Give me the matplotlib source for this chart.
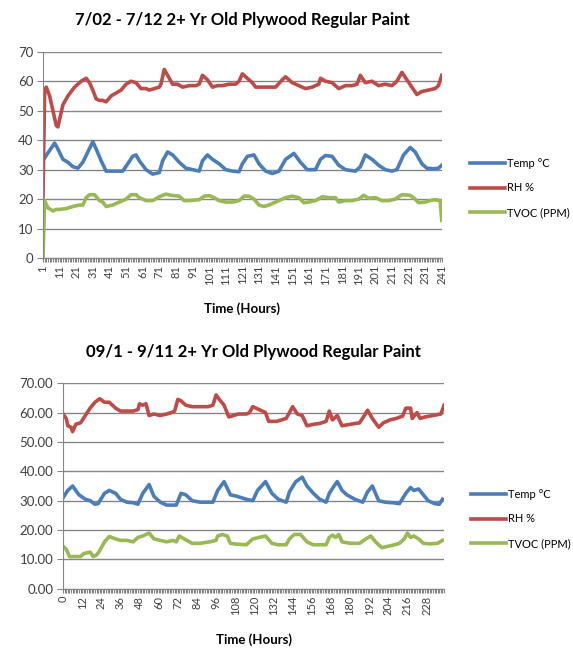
import numpy as np
import matplotlib.pyplot as plt
from matplotlib.ticker import FormatStrFormatter

# ---- chart 1 : 7/02 - 7/12 (hours 1..241) ----
temp1_h = [2, 5, 8, 10, 13, 16, 19, 22, 25, 28, 31, 33, 36, 39, 43, 49, 52, 55, 57, 59, 63, 67, 71,
           73, 76, 79, 83, 87, 91, 95, 97, 100, 103, 107, 111, 115, 119, 121, 124, 128, 131, 135,
           139, 143, 147, 152, 156, 160, 165, 168, 171, 175, 179, 183, 189, 192, 195, 199, 203,
           207, 211, 214, 218, 222, 225, 229, 232, 236, 239, 241]
temp1 = [34, 36.5, 39, 37, 33.5, 32.5, 31, 30.5, 32.5, 36, 39.5, 37, 33, 29.5, 29.5, 29.5, 32, 34.5,
         35, 33, 30, 28.5, 29, 33, 36, 35, 32.5, 30.5, 30, 29.5, 33, 35, 33.5, 32, 30, 29.5, 29.3,
         32, 34.5, 35, 32, 29.5, 28.7, 29.5, 33.5, 35.5, 32.5, 30, 30, 33.5, 34.8, 34.5, 31.5, 30,
         29.5, 31, 35, 33.5, 31.5, 30, 29.5, 30, 35, 37.5, 36, 32, 30.5, 30.3, 30.5, 31.5]

rh1_h = [1, 2, 3, 5, 9, 10, 13, 16, 20, 24, 27, 29, 31, 33, 35, 37, 39, 42, 45, 48, 51, 54, 57, 60,
         63, 65, 68, 71, 72, 74, 76, 79, 82, 85, 89, 93, 95, 97, 100, 103, 106, 109, 113, 117, 119,
         121, 124, 127, 129, 135, 141, 145, 147, 151, 155, 159, 163, 167, 168, 171, 175, 179, 183,
         187, 190, 192, 195, 199, 203, 207, 211, 214, 217, 220, 223, 226, 229, 233, 237, 239, 241]
rh1 = [20, 57, 58, 55, 45, 44.5, 52, 55, 58, 60, 61, 59.5, 57, 54, 53.5, 53.5, 53, 55, 56, 57, 59,
       60, 59.5, 57.5, 57.5, 57, 57.5, 58, 59, 64, 62, 59, 59, 58, 58.5, 58.5, 59, 62, 60.5, 58,
       58.5, 58.5, 59, 59, 60, 62.5, 61, 59.5, 58, 58, 58, 60.5, 61.5, 59.5, 58.5, 57.5, 58, 59,
       61, 60, 59.5, 57.5, 58.5, 58.5, 59, 62, 59.5, 60, 58.5, 59, 58.5, 60, 63, 60.5, 58, 55.5,
       56.5, 57, 57.5, 58.5, 62]

tvoc1_h = [1, 2, 4, 7, 9, 11, 15, 19, 23, 25, 27, 29, 32, 35, 37, 39, 43, 47, 51, 54, 57, 59, 63,
           67, 71, 75, 78, 83, 86, 89, 95, 98, 101, 104, 107, 111, 115, 119, 122, 125, 128, 131,
           134, 137, 143, 147, 151, 155, 158, 161, 165, 169, 173, 177, 179, 183, 187, 191, 194,
           197, 201, 205, 209, 213, 217, 222, 225, 227, 231, 234, 237, 240, 241]
tvoc1 = [0, 19.5, 17, 16, 16.5, 16.5, 16.8, 17.5, 18, 18, 20.5, 21.5, 21.5, 19.5, 19, 17.5, 18, 19,
         20, 21.5, 21.5, 20.5, 19.5, 19.5, 20.8, 21.7, 21.3, 21, 19.5, 19.5, 19.8, 21, 21.2, 20.5,
         19.5, 19, 19, 19.5, 21, 21, 20, 18, 17.5, 18, 19.5, 20.5, 21, 20.5, 18.8, 19, 19.5, 20.8,
         20.5, 20.5, 19, 19.5, 19.5, 20, 21.3, 20.3, 20.5, 19.5, 19.5, 20, 21.5, 21.3, 20, 18.8,
         19, 19.5, 19.8, 19.5, 12.8]

# ---- chart 2 : 09/1 - 9/11 (hours 0..239) ----
temp2_h = [0, 3, 6, 10, 14, 17, 20, 22, 26, 29, 33, 36, 40, 44, 47, 50, 54, 57, 61, 65, 71, 74, 77,
           81, 86, 94, 97, 101, 105, 109, 115, 119, 122, 127, 131, 135, 140, 142, 146, 150, 153,
           157, 161, 165, 167, 170, 172, 175, 178, 183, 188, 191, 194, 198, 202, 207, 211, 215,
           218, 220, 223, 226, 229, 233, 236, 238]
temp2 = [31, 33.5, 35, 32, 30.5, 30, 28.8, 29, 32.5, 33.5, 32.5, 30.5, 29.5, 29.3, 28.8, 32.5, 35.5,
         31.5, 29.5, 28.5, 28.5, 32.5, 32, 30, 29.5, 29.5, 33.5, 36.5, 32, 31.5, 30.5, 30, 33.5,
         36.5, 32.5, 30.5, 29.5, 33, 36.5, 38, 35, 32.5, 30.5, 29.5, 32.5, 35, 36.5, 33.5, 32,
         30.5, 29.5, 33, 35, 30, 29.5, 29.3, 29, 32.5, 34.5, 33.5, 34, 32, 30, 29, 28.8, 30.5]

rh2_h = [0, 2, 3, 5, 6, 8, 11, 14, 17, 20, 23, 26, 29, 33, 36, 40, 44, 47, 48, 50, 52, 54, 57, 61,
         65, 68, 70, 72, 74, 77, 81, 86, 91, 94, 96, 98, 101, 104, 107, 110, 115, 117, 119, 123,
         127, 129, 134, 140, 144, 147, 150, 153, 157, 161, 165, 167, 169, 172, 175, 180, 186, 189,
         191, 194, 198, 201, 205, 209, 213, 215, 218, 219, 222, 224, 227, 232, 237, 239]
rh2 = [59.5, 58, 55.5, 55, 53.5, 56, 56.5, 59, 61.5, 63.5, 64.7, 63.5, 63.5, 61.5, 60.5, 60.5, 60.5,
       61, 63, 62.5, 63, 59, 59.5, 59, 59.5, 60, 60.5, 64.5, 64, 62.5, 62, 62, 62, 62.5, 66, 64.5,
       62.5, 58.5, 59, 59.5, 59.5, 60, 62, 61, 60, 57, 57, 58, 62, 59.5, 59, 55.5, 56, 56.3, 57,
       60.5, 57.5, 59, 55.5, 56, 56.5, 59, 60.8, 58, 55, 56.5, 57.5, 58, 58.8, 61.5, 61.5, 58,
       60, 58, 58.5, 59, 59.5, 62.5]

tvoc2_h = [0, 2, 4, 8, 11, 13, 17, 19, 21, 23, 26, 29, 33, 36, 40, 44, 47, 50, 54, 57, 61, 65, 69,
           71, 73, 76, 81, 86, 92, 96, 97, 100, 103, 105, 109, 115, 119, 123, 127, 131, 135, 140,
           142, 145, 149, 153, 157, 165, 167, 169, 171, 173, 175, 180, 186, 190, 193, 196, 200,
           204, 208, 211, 214, 216, 218, 220, 223, 226, 230, 235, 238]
tvoc2 = [14.5, 13.5, 11, 11, 11, 12, 12.5, 11, 11.5, 13, 16, 17.8, 17, 16.5, 16.5, 16, 17.5, 18, 19,
         17, 16.5, 16, 16.5, 16, 18, 17, 15.5, 15.5, 16, 16.5, 18, 18.5, 18, 15.5, 15.2, 15, 17,
         17.5, 18, 15.5, 15, 15, 17, 18.5, 18.5, 16, 15, 15, 17.5, 18.3, 17.5, 18.5, 16, 15.5,
         15.5, 17, 18, 16, 14, 14.5, 15, 15.5, 17, 19, 17.5, 18, 17, 15.5, 15.3, 15.5, 16.5]

series_names = ['Temp \u00b0C', 'RH %', 'TVOC (PPM)']
series_colors = ['#4a7ebb', '#be4b48', '#98b954']
grid_gray = '#868686'
text_gray = '#404040'

plt.rcParams['font.family'] = ['Lato', 'DejaVu Sans']

fig = plt.figure(figsize=(5.73, 6.55), dpi=100)


def draw_panel(ax, data, first_hour, last_hour, label_step, title, fmt):
    for (hrs, vals), name, color in zip(data, series_names, series_colors):
        ax.plot(hrs, vals, color=color, lw=2.6, label=name, solid_joinstyle='round')
    ax.set_xlim(first_hour, last_hour)
    ax.set_ylim(0, 70)
    ax.set_yticks(np.arange(0, 71, 10))
    ax.yaxis.set_major_formatter(FormatStrFormatter(fmt))
    ax.set_xticks(np.arange(first_hour, last_hour + 1, label_step))
    ax.set_xticks(np.arange(first_hour, last_hour + 1, 1), minor=True)
    ax.tick_params(axis='x', which='major', labelrotation=90, labelsize=8, length=3,
                   color=grid_gray, labelcolor=text_gray, pad=2)
    ax.tick_params(axis='x', which='minor', length=3, color=grid_gray, width=0.8)
    ax.tick_params(axis='y', labelsize=9.5, length=4, color=grid_gray, labelcolor=text_gray, pad=3)
    ax.grid(axis='y', color=grid_gray, lw=1)
    ax.set_axisbelow(True)
    for side in ['top', 'right']:
        ax.spines[side].set_visible(False)
    for side in ['left', 'bottom']:
        ax.spines[side].set_color(grid_gray)
    ax.set_title(title, fontsize=12, fontweight='bold', pad=19)
    ax.set_xlabel('Time (Hours)', fontsize=9.5, fontweight='bold', labelpad=13)
    ax.legend(loc='center left', bbox_to_anchor=(1.06, 0.34), frameon=False, fontsize=8,
              handlelength=3.1, handletextpad=0.2, labelspacing=1.25, borderaxespad=0)


ax1 = fig.add_axes([0.075, 0.606, 0.696, 0.315])
draw_panel(ax1, [(temp1_h, temp1), (rh1_h, rh1), (tvoc1_h, tvoc1)], 1, 241, 10,
           '7/02 - 7/12 2+ Yr Old Plywood Regular Paint', '%d')

ax2 = fig.add_axes([0.110, 0.101, 0.665, 0.314])
draw_panel(ax2, [(temp2_h, temp2), (rh2_h, rh2), (tvoc2_h, tvoc2)], 0, 239, 12,
           '09/1 - 9/11 2+ Yr Old Plywood Regular Paint', '%.2f')

fig.savefig('out.png', dpi=100)
